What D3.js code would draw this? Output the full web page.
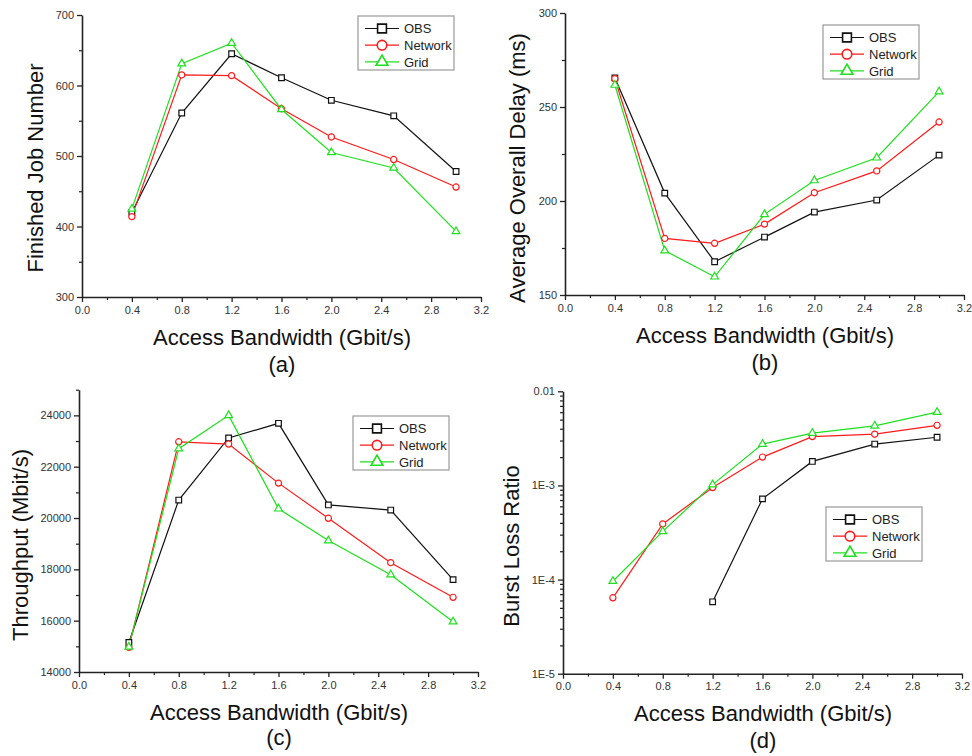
<!DOCTYPE html>
<html>
<head>
<meta charset="utf-8">
<script src="https://cdn.jsdelivr.net/npm/d3@7"></script>
<style>
  html, body { margin: 0; padding: 0; background: #fff; }
  svg { display: block; font-family: "Liberation Sans", Arial, sans-serif; }
</style>
</head>
<body>
<svg id="chart" width="972" height="756"></svg>
<script>
// ---------------- data ----------------
const bandwidth = [0.4, 0.8, 1.2, 1.6, 2.0, 2.5, 3.0];
const seriesNames = ["OBS", "Network", "Grid"];
const xTickValues = [0.0, 0.4, 0.8, 1.2, 1.6, 2.0, 2.4, 2.8, 3.2];

// (a) Finished Job Number
const jobsOBS     = [420, 561, 645, 611, 579, 557, 478];
const jobsNetwork = [414, 615, 614, 567, 527, 495, 456];
const jobsGrid    = [425, 631, 660, 566, 505, 483, 393];
const jobsTicks   = [300, 400, 500, 600, 700];

// (b) Average Overall Delay (ms)
const delayOBS     = [265.5, 204.2, 167.7, 180.8, 194.1, 200.5, 224.4];
const delayNetwork = [265.0, 180.1, 177.5, 187.7, 204.4, 216.0, 242.0];
const delayGrid    = [261.7, 173.6, 159.7, 192.9, 210.9, 223.0, 258.2];
const delayTicks   = [150, 200, 250, 300];

// (c) Throughput (Mbit/s)
const thrOBS     = [15150, 20700, 23120, 23690, 20510, 20310, 17600];
const thrNetwork = [14960, 22970, 22880, 21360, 19990, 18260, 16910];
const thrGrid    = [14980, 22700, 24000, 20360, 19120, 17790, 15960];
const thrTicks   = [14000, 16000, 18000, 20000, 22000, 24000];

// (d) Burst Loss Ratio (log)
const lossOBS     = [null, null, 5.8e-5, 7.2e-4, 1.8e-3, 2.75e-3, 3.25e-3];
const lossNetwork = [6.4e-5, 3.9e-4, 9.5e-4, 2.0e-3, 3.3e-3, 3.5e-3, 4.35e-3];
const lossGrid    = [9.6e-5, 3.25e-4, 1.02e-3, 2.75e-3, 3.6e-3, 4.3e-3, 6.0e-3];
const lossTicks   = [1e-5, 1e-4, 1e-3, 1e-2];
const lossTickLabels = ["1E-5", "1E-4", "1E-3", "0.01"];

// ---------------- styling ----------------
const colors = { OBS: "#111111", Network: "#ff1a1a", Grid: "#1ee01e" };
const symbols = { OBS: d3.symbolSquare, Network: d3.symbolCircle, Grid: d3.symbolTriangle };
const dataSymSize = { OBS: 32, Network: 30, Grid: 26 };
const legSymSize = { OBS: 78, Network: 72, Grid: 60 };

const svg = d3.select("#chart");

const panels = [
  {
    series: [jobsOBS, jobsNetwork, jobsGrid],
    xr: [82, 481], yr: [297, 15], domain: [300, 700], log: false,
    ticks: jobsTicks, minorStep: 50, fmt: d3.format("d"),
    ylabel: "Finished Job Number", ylabelX: 43, ylabelY: 168,
    xlabelX: 282, xlabelY: 345, letter: "(a)", letterY: 372,
    legend: [358, 16]
  },
  {
    series: [delayOBS, delayNetwork, delayGrid],
    xr: [565, 964], yr: [295, 13], domain: [150, 300], log: false,
    ticks: delayTicks, minorStep: 25, fmt: d3.format("d"),
    ylabel: "Average Overall Delay (ms)", ylabelX: 525, ylabelY: 168,
    xlabelX: 765, xlabelY: 343, letter: "(b)", letterY: 370,
    legend: [823, 25]
  },
  {
    series: [thrOBS, thrNetwork, thrGrid],
    xr: [79, 478], yr: [672, 389.7], domain: [14000, 25000], log: false,
    ticks: thrTicks, minorStep: 1000, fmt: d3.format("d"),
    ylabel: "Throughput (Mbit/s)", ylabelX: 28, ylabelY: 545,
    xlabelX: 279, xlabelY: 720, letter: "(c)", letterY: 745,
    legend: [353, 416]
  },
  {
    series: [lossOBS, lossNetwork, lossGrid],
    xr: [563, 962], yr: [673.7, 391.3], domain: [1e-5, 1e-2], log: true,
    ticks: lossTicks, labels: lossTickLabels,
    ylabel: "Burst Loss Ratio", ylabelX: 519, ylabelY: 546,
    xlabelX: 763, xlabelY: 721, letter: "(d)", letterY: 748,
    legend: [826, 507]
  }
];

panels.forEach(p => {
  const g = svg.append("g");
  const x = d3.scaleLinear().domain([0, 3.2]).range(p.xr);
  const y = (p.log ? d3.scaleLog() : d3.scaleLinear()).domain(p.domain).range(p.yr);

  // minor ticks
  let yMinor = [];
  if (p.log) {
    for (let e = -5; e < -2; e++) for (let m = 2; m <= 9; m++) yMinor.push(m * Math.pow(10, e));
  } else {
    for (let v = p.domain[0]; v <= p.domain[1] + 1e-9; v += p.minorStep) {
      if (!p.ticks.some(t => Math.abs(t - v) < 1e-6)) yMinor.push(v);
    }
  }
  const xMinor = d3.range(0.2, 3.2, 0.4);

  // X axis
  const xAxis = d3.axisBottom(x).tickValues(xTickValues).tickFormat(d3.format(".1f"))
    .tickSizeInner(5).tickSizeOuter(0).tickPadding(4);
  const xg = g.append("g").attr("transform", `translate(0,${p.yr[0]})`).call(xAxis);
  const xmg = g.append("g").attr("transform", `translate(0,${p.yr[0]})`)
    .call(d3.axisBottom(x).tickValues(xMinor).tickFormat("").tickSizeInner(3).tickSizeOuter(0));
  xmg.select(".domain").remove();

  // Y axis
  const yAxis = d3.axisLeft(y).tickValues(p.ticks)
    .tickFormat(p.log ? ((d, i) => p.labels[i]) : p.fmt)
    .tickSizeInner(5).tickSizeOuter(0).tickPadding(3);
  const yg = g.append("g").attr("transform", `translate(${p.xr[0]},0)`).call(yAxis);
  const ymg = g.append("g").attr("transform", `translate(${p.xr[0]},0)`)
    .call(d3.axisLeft(y).tickValues(yMinor).tickFormat("").tickSizeInner(3).tickSizeOuter(0));
  ymg.select(".domain").remove();

  [xg, yg].forEach(a => {
    a.select(".domain").attr("stroke", "#222").attr("stroke-width", 1.6);
    a.selectAll(".tick line").attr("stroke", "#222").attr("stroke-width", 1.3);
    a.selectAll(".tick text").attr("fill", "#333").style("font-size", "11px")
      .style("font-family", "'Liberation Sans', Arial, sans-serif");
  });
  [xmg, ymg].forEach(a => a.selectAll(".tick line").attr("stroke", "#222").attr("stroke-width", 1.2));

  // series
  p.series.forEach((vals, si) => {
    const name = seriesNames[si];
    const pts = bandwidth.map((b, i) => ({ x: b, y: vals[i] })).filter(d => d.y != null);
    const line = d3.line().x(d => x(d.x)).y(d => y(d.y));
    g.append("path").datum(pts).attr("d", line)
      .attr("fill", "none").attr("stroke", colors[name]).attr("stroke-width", 1.2);
  });
  p.series.forEach((vals, si) => {
    const name = seriesNames[si];
    const pts = bandwidth.map((b, i) => ({ x: b, y: vals[i] })).filter(d => d.y != null);
    g.selectAll(null).data(pts).enter().append("path")
      .attr("d", d3.symbol().type(symbols[name]).size(dataSymSize[name]))
      .attr("transform", d => `translate(${x(d.x)},${y(d.y)})`)
      .attr("fill", "#fff").attr("stroke", colors[name]).attr("stroke-width", 1.2);
  });

  // axis labels
  g.append("text")
    .attr("transform", `translate(${p.ylabelX},${p.ylabelY}) rotate(-90)`)
    .attr("text-anchor", "middle").style("font-size", "22px").attr("fill", "#111")
    .text(p.ylabel);
  g.append("text").attr("x", p.xlabelX).attr("y", p.xlabelY)
    .attr("text-anchor", "middle").style("font-size", "22px").attr("fill", "#111")
    .text("Access Bandwidth (Gbit/s)");
  g.append("text").attr("x", p.xlabelX).attr("y", p.letterY)
    .attr("text-anchor", "middle").style("font-size", "22px").attr("fill", "#111")
    .text(p.letter);

  // legend
  const [lx, ly] = p.legend;
  const lg = g.append("g").attr("transform", `translate(${lx},${ly})`);
  lg.append("rect").attr("width", 96).attr("height", 54)
    .attr("fill", "#fff").attr("stroke", "#999").attr("stroke-width", 1.2);
  seriesNames.forEach((name, i) => {
    const ry = 12.5 + i * 16.7;
    lg.append("line").attr("x1", 7).attr("x2", 41).attr("y1", ry).attr("y2", ry)
      .attr("stroke", colors[name]).attr("stroke-width", 1.2);
    lg.append("path").attr("d", d3.symbol().type(symbols[name]).size(legSymSize[name]))
      .attr("transform", `translate(24,${ry})`)
      .attr("fill", "#fff").attr("stroke", colors[name]).attr("stroke-width", 1.6);
    lg.append("text").attr("x", 46).attr("y", ry + 4.6)
      .style("font-size", "13px").attr("fill", "#222").text(name);
  });
});
</script>
</body>
</html>
